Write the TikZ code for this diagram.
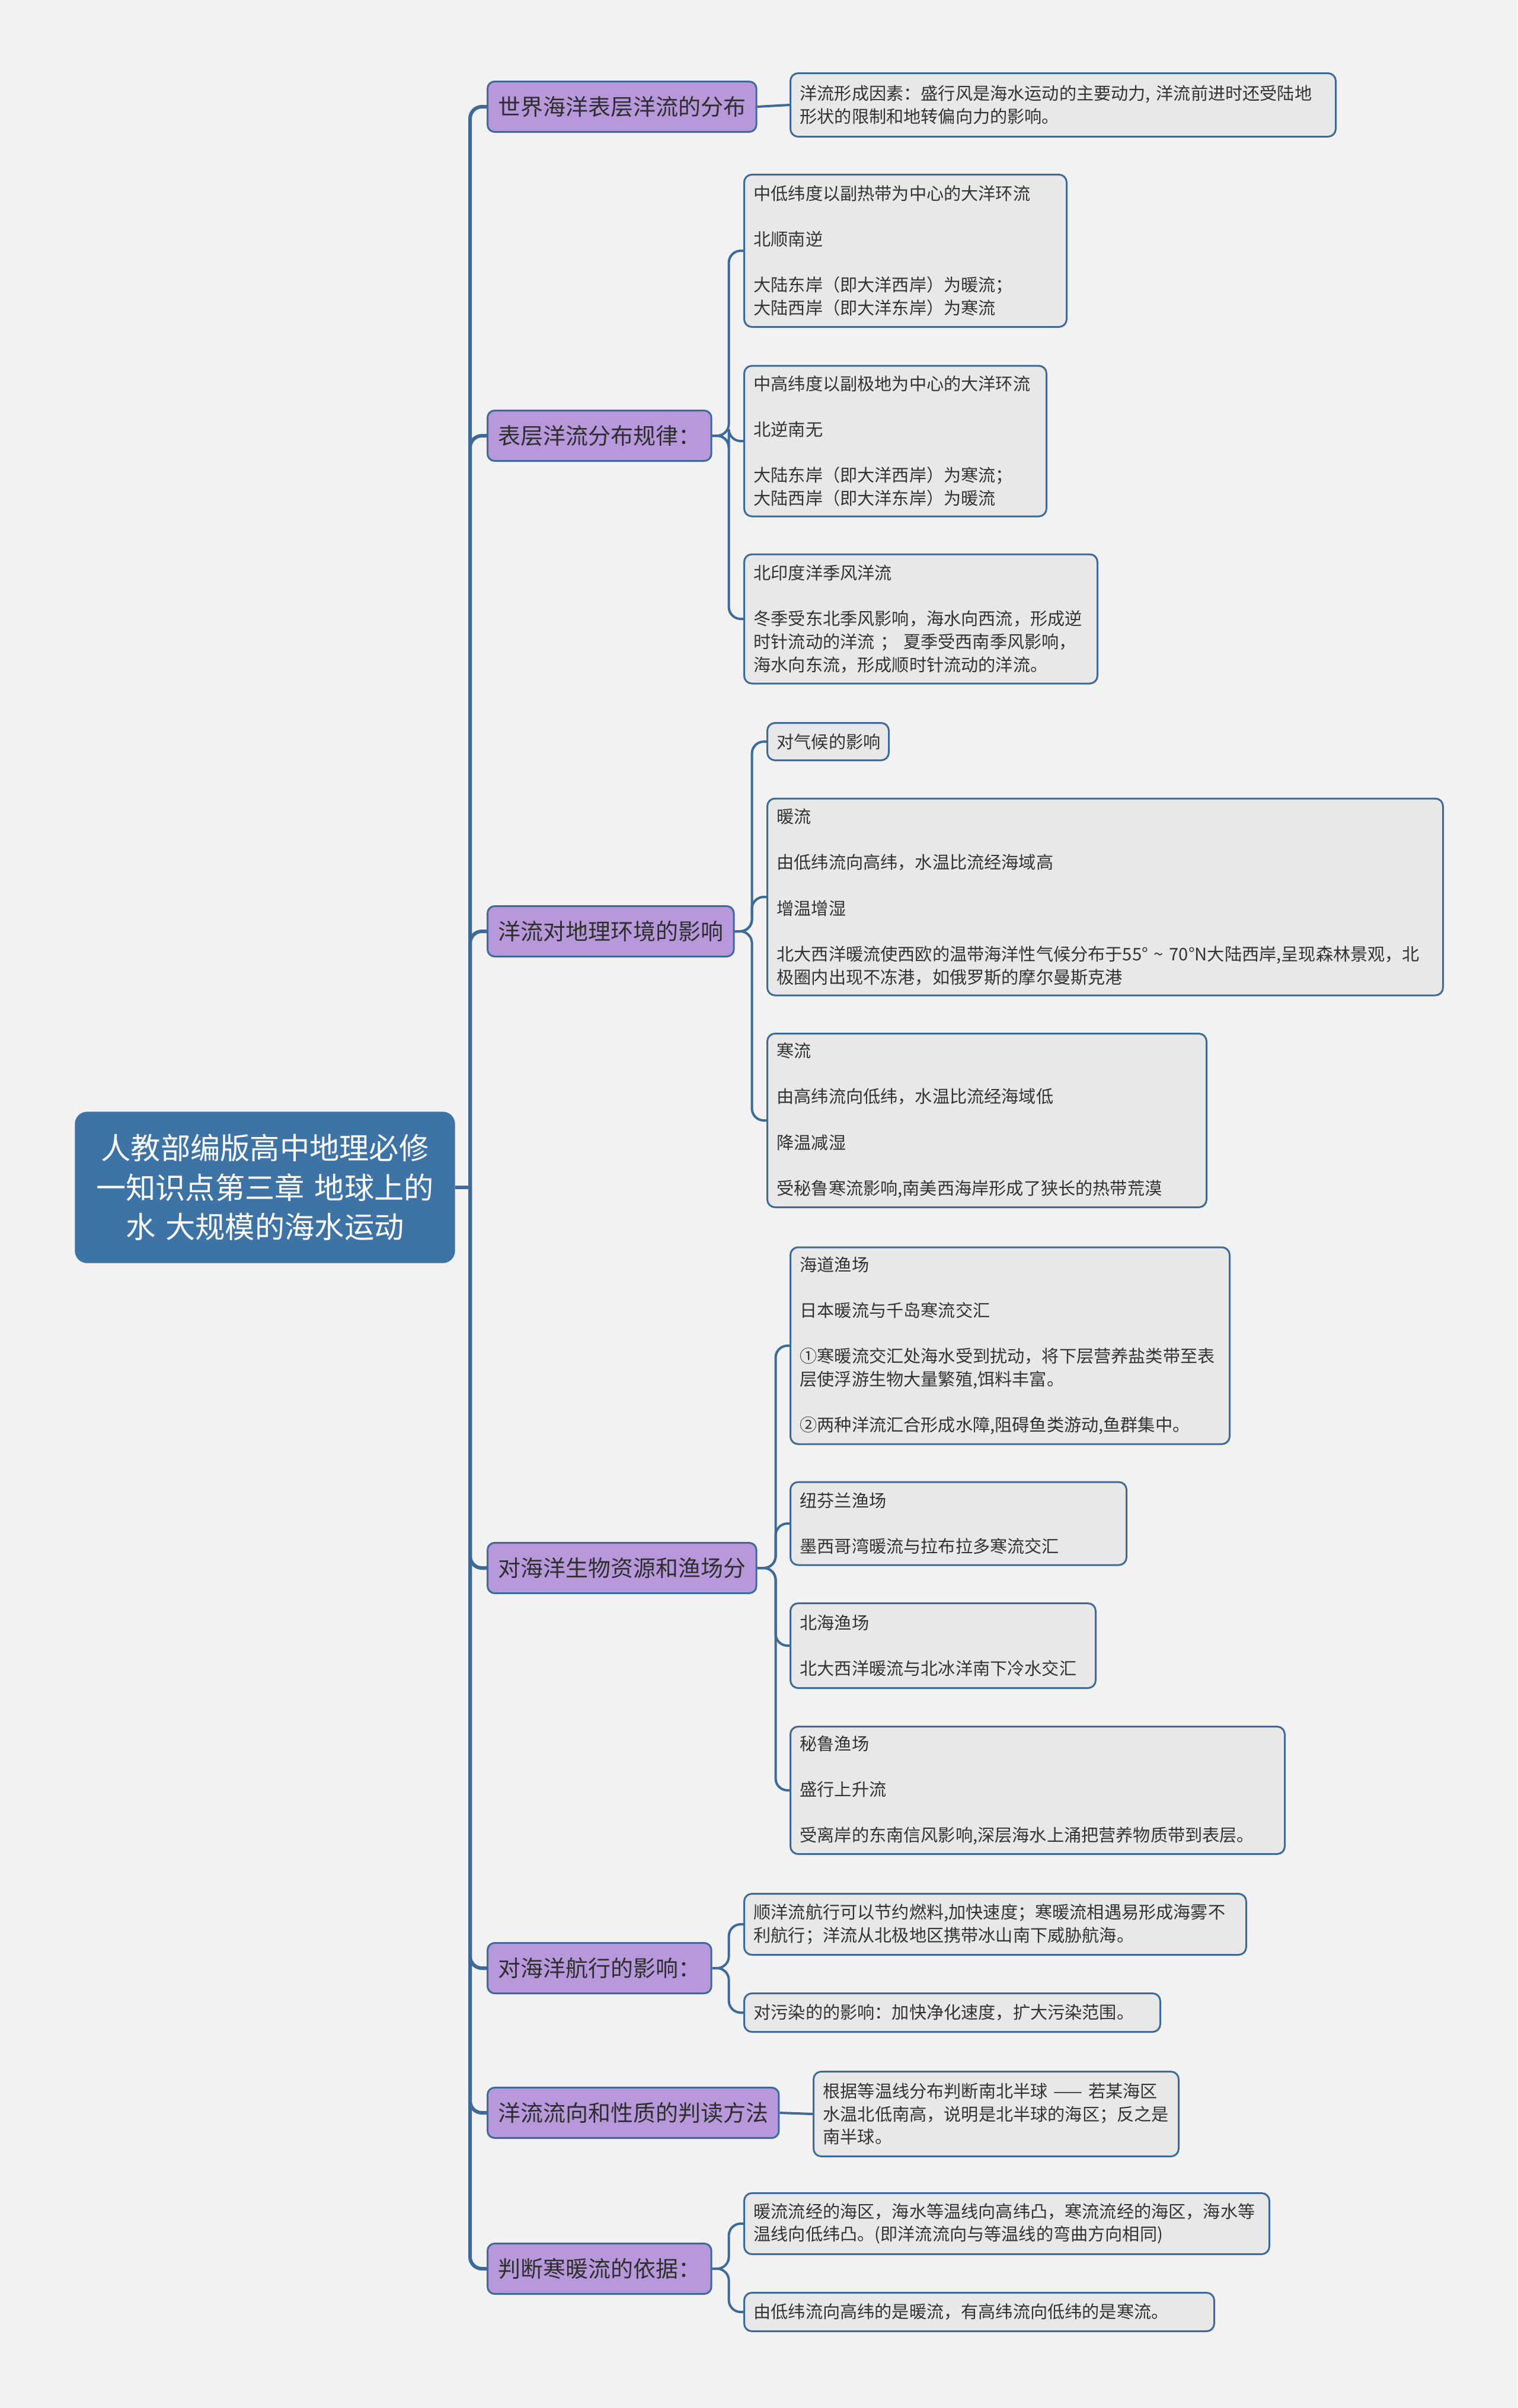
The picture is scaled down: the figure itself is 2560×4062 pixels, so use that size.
\documentclass[tikz,border=0pt]{standalone}
\usepackage{fontspec}
\setmainfont{Noto Sans CJK SC}
\usetikzlibrary{positioning}

\definecolor{bgcol}{HTML}{F2F2F2}
\definecolor{rootcol}{HTML}{3E73A6}
\definecolor{linecol}{HTML}{3D6A98}
\definecolor{branchcol}{HTML}{B798DB}
\definecolor{leafcol}{HTML}{E8E8E8}
\definecolor{txtcol}{HTML}{333333}

\newcommand{\pgap}{\\[11pt]}

\begin{document}
\begin{tikzpicture}[
  x=0.1mm, y=-0.1mm,
  rnode/.style={fill=rootcol, draw=rootcol, rounded corners=2mm, text=white, align=center,
    text width=58mm, minimum width=64mm, minimum height=25.4mm,
    font=\fontsize{14.3pt}{19pt}\selectfont},
  bnode/.style={draw=linecol, fill=branchcol, line width=0.3mm, rounded corners=1.2mm,
    anchor=west, inner xsep=1.8mm, minimum height=8.5mm, text=txtcol!90!black,
    font=\fontsize{10.8pt}{13pt}\selectfont},
  lnode/.style={draw=linecol, fill=leafcol, line width=0.3mm, rounded corners=1.3mm,
    anchor=west, align=left, inner xsep=1.6mm, inner ysep=1mm, text=txtcol,
    font=\fontsize{8.3pt}{11pt}\selectfont},
  trunk/.style={draw=linecol, line width=0.6mm, rounded corners=2mm},
  conn/.style={draw=linecol, line width=0.4mm, rounded corners=2mm}
]

  % Fondo y margenes
  \fill[bgcol] (0,0) rectangle (2560,4062);
  \useasboundingbox (0,0) rectangle (2560,4062);

  % Nodo raiz
  \node[rnode] (root) at (447,2003) {人教部编版高中地理必修\\一知识点第三章 地球上的\\水 大规模的海水运动};
  \coordinate (hub) at (793,2003);

  % Ramas principales
  \node[bnode] (b1) at (821,180) {世界海洋表层洋流的分布};
  \node[bnode] (b2) at (821,735) {表层洋流分布规律：};
  \node[bnode] (b3) at (821,1571) {洋流对地理环境的影响};
  \node[bnode] (b4) at (821,2645) {对海洋生物资源和渔场分};
  \node[bnode] (b5) at (821,3320) {对海洋航行的影响：};
  \node[bnode] (b6) at (821,3564) {洋流流向和性质的判读方法};
  \node[bnode] (b7) at (821,3827) {判断寒暖流的依据：};

  % Hojas
  \node[lnode, text width=88.8mm, minimum height=10.7mm] (b1a) at (1332,177)
    {洋流形成因素：盛行风是海水运动的主要动力, 洋流前进时还受陆地\\形状的限制和地转偏向力的影响。};

  \node[lnode, text width=51.2mm, minimum height=25.7mm] (b2a) at (1254,423)
    {中低纬度以副热带为中心的大洋环流\pgap 北顺南逆\pgap 大陆东岸（即大洋西岸）为暖流；\\大陆西岸（即大洋东岸）为寒流};
  \node[lnode, text width=47.8mm, minimum height=25.4mm] (b2b) at (1254,744)
    {中高纬度以副极地为中心的大洋环流\pgap 北逆南无\pgap 大陆东岸（即大洋西岸）为寒流；\\大陆西岸（即大洋东岸）为暖流};
  \node[lnode, text width=56.4mm, minimum height=21.8mm] (b2c) at (1254,1044)
    {北印度洋季风洋流\pgap 冬季受东北季风影响，海水向西流，形成逆\\时针流动的洋流 ； 夏季受西南季风影响，\\海水向东流，形成顺时针流动的洋流。};

  \node[lnode, text width=17.3mm, minimum height=6.3mm] (b3a) at (1293,1251) {对气候的影响};
  \node[lnode, text width=110.8mm, minimum height=33.2mm] (b3b) at (1293,1513)
    {暖流\pgap 由低纬流向高纬，水温比流经海域高\pgap 增温增湿\pgap 北大西洋暖流使西欧的温带海洋性气候分布于55° \textasciitilde{} 70°N大陆西岸,呈现森林景观，北\\极圈内出现不冻港，如俄罗斯的摩尔曼斯克港};
  \node[lnode, text width=70.9mm, minimum height=29.3mm] (b3c) at (1293,1890)
    {寒流\pgap 由高纬流向低纬，水温比流经海域低\pgap 降温减湿\pgap 受秘鲁寒流影响,南美西海岸形成了狭长的热带荒漠};

  \node[lnode, text width=70.9mm, minimum height=33.2mm] (b4a) at (1332,2270)
    {海道渔场\pgap 日本暖流与千岛寒流交汇\pgap ①寒暖流交汇处海水受到扰动，将下层营养盐类带至表\\层使浮游生物大量繁殖,饵料丰富。\pgap ②两种洋流汇合形成水障,阻碍鱼类游动,鱼群集中。};
  \node[lnode, text width=53.5mm, minimum height=14mm] (b4b) at (1332,2570)
    {纽芬兰渔场\pgap 墨西哥湾暖流与拉布拉多寒流交汇};
  \node[lnode, text width=48.3mm, minimum height=14.3mm] (b4c) at (1332,2776)
    {北海渔场\pgap 北大西洋暖流与北冰洋南下冷水交汇};
  \node[lnode, text width=80.2mm, minimum height=21.5mm] (b4d) at (1332,3020)
    {秘鲁渔场\pgap 盛行上升流\pgap 受离岸的东南信风影响,深层海水上涌把营养物质带到表层。};

  \node[lnode, text width=81.5mm, minimum height=10.3mm] (b5a) at (1254,3246)
    {顺洋流航行可以节约燃料,加快速度；寒暖流相遇易形成海雾不\\利航行；洋流从北极地区携带冰山南下威胁航海。};
  \node[lnode, text width=67mm, minimum height=6.5mm] (b5b) at (1254,3395)
    {对污染的的影响：加快净化速度，扩大污染范围。};

  \node[lnode, text width=58.4mm, minimum height=14.3mm] (b6a) at (1371,3566)
    {根据等温线分布判断南北半球 —— 若某海区\\水温北低南高，说明是北半球的海区；反之是\\南半球。};

  \node[lnode, text width=85.4mm, minimum height=10.3mm] (b7a) at (1254,3751)
    {暖流流经的海区，海水等温线向高纬凸，寒流流经的海区，海水等\\温线向低纬凸。(即洋流流向与等温线的弯曲方向相同)};
  \node[lnode, text width=76.1mm, minimum height=6.5mm] (b7b) at (1254,3900)
    {由低纬流向高纬的是暖流，有高纬流向低纬的是寒流。};

  % Tronco
  \draw[trunk] (root.east) -- (hub);
  \draw[trunk] (hub) |- (b1.west);
  \draw[trunk] (hub) |- (b2.west);
  \draw[trunk] (hub) |- (b3.west);
  \draw[trunk] (hub) |- (b4.west);
  \draw[trunk] (hub) |- (b5.west);
  \draw[trunk] (hub) |- (b6.west);
  \draw[trunk] (hub) |- (b7.west);

  % Conexiones a las hojas
  \draw[conn] (b1.east) -- (b1a.west);
  \draw[conn] (b2.east) -- ++(28,0) |- (b2a.west);
  \draw[conn] (b2.east) -- ++(28,0) |- (b2b.west);
  \draw[conn] (b2.east) -- ++(28,0) |- (b2c.west);
  \draw[conn] (b3.east) -- ++(29,0) |- (b3a.west);
  \draw[conn] (b3.east) -- ++(29,0) |- (b3b.west);
  \draw[conn] (b3.east) -- ++(29,0) |- (b3c.west);
  \draw[conn] (b4.east) -- ++(31,0) |- (b4a.west);
  \draw[conn] (b4.east) -- ++(31,0) |- (b4b.west);
  \draw[conn] (b4.east) -- ++(31,0) |- (b4c.west);
  \draw[conn] (b4.east) -- ++(31,0) |- (b4d.west);
  \draw[conn] (b5.east) -- ++(28,0) |- (b5a.west);
  \draw[conn] (b5.east) -- ++(28,0) |- (b5b.west);
  \draw[conn] (b6.east) -- (b6a.west);
  \draw[conn] (b7.east) -- ++(28,0) |- (b7a.west);
  \draw[conn] (b7.east) -- ++(28,0) |- (b7b.west);

\end{tikzpicture}
\end{document}
